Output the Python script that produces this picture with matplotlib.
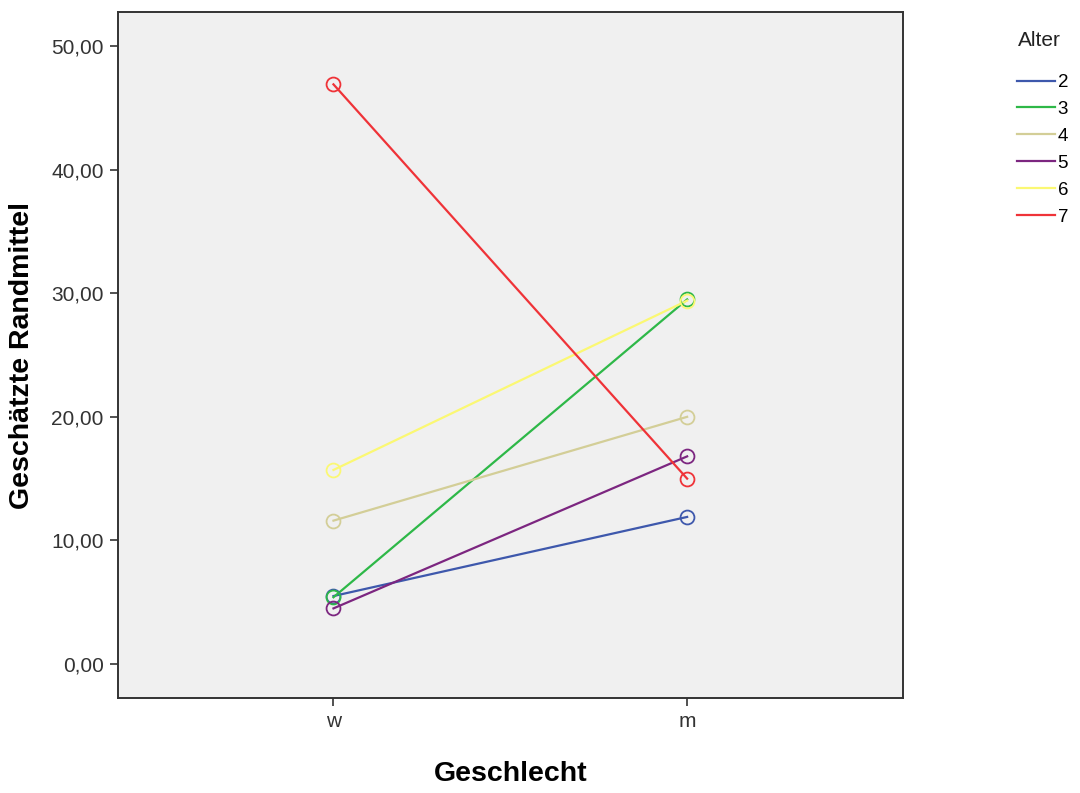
import numpy as np
import matplotlib.pyplot as plt

plt.rcParams['font.family'] = ['Liberation Sans', 'DejaVu Sans']

# Data
geschlecht = ['w', 'm']
alter = ['2', '3', '4', '5', '6', '7']
mittel_w = [5.5, 5.4, 11.6, 4.5, 15.7, 46.9]
mittel_m = [11.9, 29.5, 20.0, 16.8, 29.4, 15.0]
farben = ['#3E58AC', '#2EB848', '#D3CE97', '#7C2680', '#FBF873', '#EF3338']

fig = plt.figure(figsize=(10.8, 7.93), dpi=100)
ax = fig.add_axes([0.109, 0.1198, 0.727, 0.865])
ax.set_facecolor('#F0F0F0')

x = np.arange(len(geschlecht))
for a, w, m, c in zip(alter, mittel_w, mittel_m, farben):
    ax.plot(x, [w, m], color=c, lw=1.6, label=a, zorder=2)
    ax.plot(x, [w, m], ls='none', marker='o', ms=10, mfc='none',
            mec=c, mew=1.3, zorder=3)

ax.set_xlim(-0.61, 1.61)
ax.set_ylim(-2.75, 52.75)
ax.set_xticks(x)
ax.set_xticklabels(geschlecht)
yt = np.arange(0, 51, 10)
ax.set_yticks(yt)
ax.set_yticklabels([f'{v:.2f}'.replace('.', ',') for v in yt])
ax.tick_params(labelsize=15, colors='#333333', length=6, width=1.2, pad=4)

for s in ax.spines.values():
    s.set_linewidth(1.4)
    s.set_color('#333333')

ax.set_xlabel('Geschlecht', fontsize=20.5, fontweight='bold', labelpad=22)
ax.set_ylabel('Geschätzte Randmittel', fontsize=20.5, fontweight='bold', labelpad=12)

# legend title placed separately, like SPSS
fig.text(0.943, 1 - 40 / 793, 'Alter', fontsize=15, va='center', color='#222222')
fig.legend(*ax.get_legend_handles_labels(),
           loc='upper left', bbox_to_anchor=(0.942, 1 - 74 / 793),
           frameon=False, fontsize=13.5,
           handlelength=2.0, handletextpad=0.15, labelspacing=0.52,
           borderaxespad=0, borderpad=0)

fig.savefig('out.png', dpi=100)
